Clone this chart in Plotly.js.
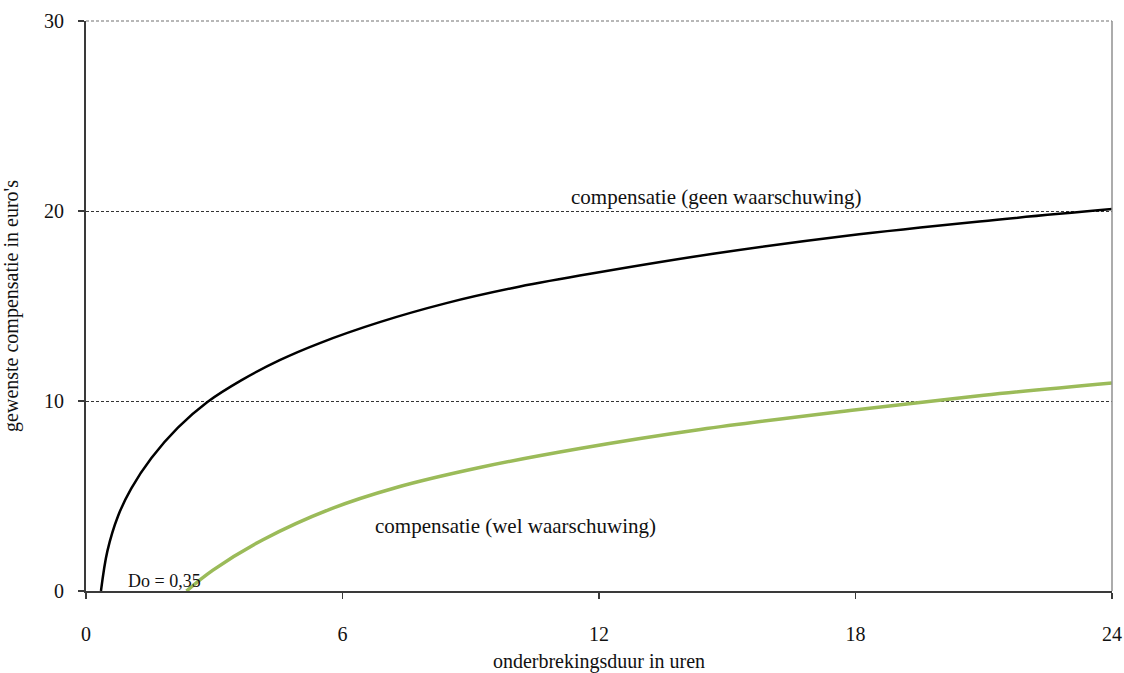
<!DOCTYPE html>
<html>
<head>
<meta charset="utf-8">
<script src="https://cdn.plot.ly/plotly-3.0.1.min.js"></script>
<style>html,body{margin:0;padding:0;background:#fff;}#chart{width:1124px;height:673px;}</style>
</head>
<body>
<div id="chart"></div>
<script>
// Values
const geenX = [0.35, 0.5, 0.75, 1.06, 1.53, 2.15, 2.84, 3.64, 4.53, 5.47, 6.87, 8.43, 9.99, 11.55, 14.67, 17.8, 20.9, 24];
const geenY = [0, 2.1, 3.95, 5.4, 7.0, 8.6, 9.95, 11.1, 12.15, 13.05, 14.15, 15.15, 15.95, 16.6, 17.75, 18.7, 19.45, 20.1];
const welX = [2.35, 2.97, 4.14, 5.70, 7.26, 9.21, 11.55, 14.37, 17.87, 21.0, 24];
const welY = [0, 1.1, 2.7, 4.3, 5.45, 6.5, 7.5, 8.5, 9.5, 10.3, 10.95];
const xTicks = [0, 6, 12, 18, 24];
const yTicks = [0, 10, 20, 30];
const labelGeen = 'compensatie (geen waarschuwing)';
const labelWel = 'compensatie (wel waarschuwing)';
const labelDo = 'Do = 0,35';
const xTitle = 'onderbrekingsduur in uren';
const yTitle = "gewenste compensatie in euro's";

const FONT = 'Liberation Serif, Times New Roman, serif';

const traces = [
  {x: geenX, y: geenY, mode: 'lines', line: {color: '#000000', width: 2.5, shape: 'spline', smoothing: 1}, hoverinfo: 'skip', showlegend: false},
  {x: welX, y: welY, mode: 'lines', line: {color: '#9BBB59', width: 3.5, shape: 'spline', smoothing: 1}, hoverinfo: 'skip', showlegend: false}
];

const layout = {
  width: 1124, height: 673,
  margin: {l: 86, r: 12, t: 21, b: 82},
  paper_bgcolor: '#ffffff', plot_bgcolor: '#ffffff',
  font: {family: FONT, size: 20, color: '#111111'},
  showlegend: false,
  xaxis: {
    range: [0, 24], tickvals: xTicks, ticktext: xTicks.map(String),
    showgrid: false, zeroline: false,
    showline: true, linecolor: '#3a3a3a', linewidth: 2,
    ticks: 'outside', ticklen: 6, tickcolor: '#3a3a3a', tickwidth: 1.5,
    ticklabelstandoff: 18,
    tickfont: {family: FONT, size: 20, color: '#111'},
    title: {text: xTitle, font: {family: FONT, size: 20, color: '#111'}, standoff: 18},
    fixedrange: true
  },
  yaxis: {
    range: [0, 30], tickvals: yTicks, ticktext: yTicks.map(String),
    showgrid: true, gridcolor: '#000000', gridwidth: 0.8, griddash: '3px,2px',
    zeroline: false,
    showline: true, linecolor: '#3a3a3a', linewidth: 2,
    ticks: 'outside', ticklen: 6, tickcolor: '#3a3a3a', tickwidth: 1.5,
    ticklabelstandoff: 10,
    tickfont: {family: FONT, size: 20, color: '#111'},
    title: {text: yTitle, font: {family: FONT, size: 20, color: '#111'}, standoff: 22},
    fixedrange: true
  },
  shapes: [
    {type: 'line', xref: 'paper', yref: 'paper', x0: 0, x1: 1, y0: 1, y1: 1, line: {color: '#a0a0a0', width: 1.5, dash: '3px,2px'}},
    {type: 'line', xref: 'paper', yref: 'paper', x0: 1, x1: 1, y0: 0, y1: 1, line: {color: '#909090', width: 1.5}}
  ],
  annotations: [
    {x: 14.74, y: 20.72, xref: 'x', yref: 'y', text: labelGeen, showarrow: false, xanchor: 'center', yanchor: 'middle', font: {family: FONT, size: 21, color: '#111'}},
    {x: 10.05, y: 3.4, xref: 'x', yref: 'y', text: labelWel, showarrow: false, xanchor: 'center', yanchor: 'middle', font: {family: FONT, size: 21, color: '#111'}},
    {x: 1.83, y: 0.55, xref: 'x', yref: 'y', text: labelDo, showarrow: false, xanchor: 'center', yanchor: 'middle', font: {family: FONT, size: 18, color: '#111'}}
  ]
};

Plotly.newPlot('chart', traces, layout, {staticPlot: true, displayModeBar: false});
</script>
</body>
</html>
